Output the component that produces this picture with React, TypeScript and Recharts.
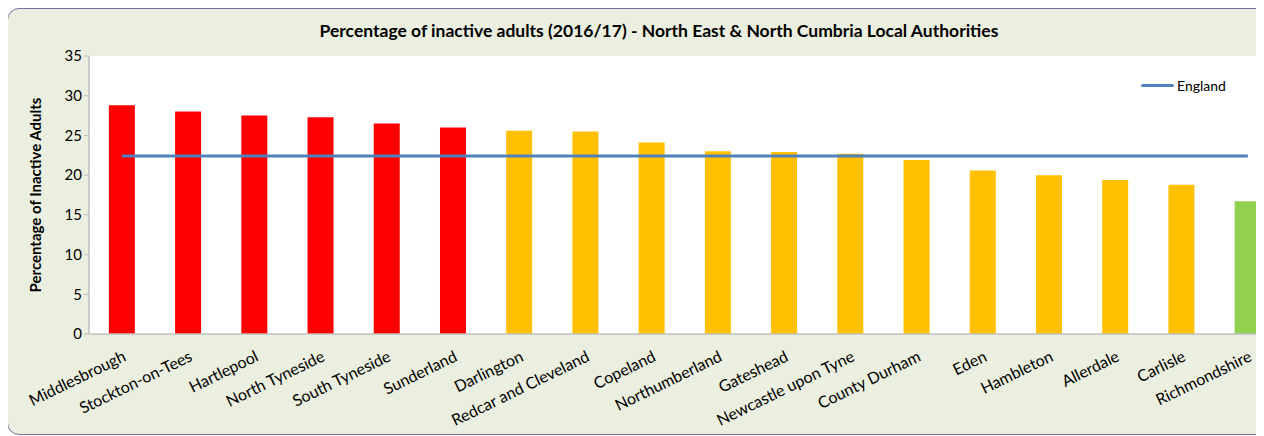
import React from "react";
import { ComposedChart, Bar, Line, Cell, XAxis, YAxis, CartesianGrid } from "recharts";

const authorities = [
    "Middlesbrough", "Stockton-on-Tees", "Hartlepool", "North Tyneside", "South Tyneside",
    "Sunderland", "Darlington", "Redcar and Cleveland", "Copeland", "Northumberland",
    "Gateshead", "Newcastle upon Tyne", "County Durham", "Eden", "Hambleton",
    "Allerdale", "Carlisle", "Richmondshire",
];
const inactivePct = [
    28.8, 28.0, 27.5, 27.3, 26.5, 26.0, 25.6, 25.5, 24.1, 23.0,
    22.9, 22.7, 21.9, 20.6, 20.0, 19.4, 18.8, 16.7,
];
const englandPct = [
    22.4, 22.4, 22.4, 22.4, 22.4, 22.4, 22.4, 22.4, 22.4, 22.4,
    22.4, 22.4, 22.4, 22.4, 22.4, 22.4, 22.4, 22.4,
];
const bandColours = [
    "#FF0000", "#FF0000", "#FF0000", "#FF0000", "#FF0000", "#FF0000",
    "#FFC000", "#FFC000", "#FFC000", "#FFC000", "#FFC000", "#FFC000",
    "#FFC000", "#FFC000", "#FFC000", "#FFC000", "#FFC000", "#92D050",
];
const yTicks = [0, 5, 10, 15, 20, 25, 30, 35];

const chartData = authorities.map((name, i) => ({
    name,
    value: inactivePct[i],
    england: englandPct[i],
}));

const font = "Lato, 'Open Sans', sans-serif";

const App: React.FC = () => {
    return (
        <div style={{ width: 1256, height: 428, overflow: "hidden", fontFamily: font }}>
            <div style={{
                position: "relative",
                width: 1290,
                height: 425,
                marginLeft: -1,
                background: "#EBEFDF",
                border: "1.5px solid #7F6A9E",
                borderRadius: 12,
            }}>
                <div style={{
                    position: "absolute", left: 0, width: 1302, top: 11,
                    textAlign: "center", fontWeight: "bold", fontSize: 17.5, color: "#000",
                }}>
                    Percentage of inactive adults (2016/17) - North East &amp; North Cumbria Local Authorities
                </div>
                <ComposedChart
                    width={1290}
                    height={425}
                    data={chartData}
                    margin={{ top: 47, right: 17, left: 0, bottom: 0 }}
                    barCategoryGap="30%"
                >
                    <CartesianGrid fill="#FFFFFF" horizontal={false} vertical={false} />
                    <XAxis
                        dataKey="name"
                        interval={0}
                        height={100}
                        angle={-26}
                        textAnchor="end"
                        tickLine={false}
                        tickMargin={10}
                        axisLine={{ stroke: "#BFBFBF", strokeWidth: 1.5 }}
                        tick={{ fontSize: 16, fill: "#000", fontFamily: font }}
                    />
                    <YAxis
                        width={81}
                        domain={[0, 35]}
                        ticks={yTicks}
                        interval={0}
                        tickSize={5}
                        axisLine={{ stroke: "#BFBFBF", strokeWidth: 1.5 }}
                        tickLine={{ stroke: "#BFBFBF" }}
                        tick={{ fontSize: 15, fill: "#000", fontFamily: font }}
                        label={{
                            value: "Percentage of Inactive Adults",
                            angle: -90,
                            position: "insideLeft",
                            offset: 28,
                            style: { textAnchor: "middle", fontWeight: "bold", fontSize: 15, fill: "#000", fontFamily: font },
                        }}
                    />
                    <Bar dataKey="value" isAnimationActive={false}>
                        {chartData.map((entry, index) => (
                            <Cell key={`cell-${index}`} fill={bandColours[index]} />
                        ))}
                    </Bar>
                    <Line
                        dataKey="england"
                        name="England"
                        stroke="#4F81BD"
                        strokeWidth={3}
                        dot={false}
                        activeDot={false}
                        isAnimationActive={false}
                    />
                </ComposedChart>
                {/* England legend, top right of the plot */}
                <div style={{
                    position: "absolute", left: 1133, top: 68, zIndex: 5, display: "flex", alignItems: "center",
                    fontSize: 14, color: "#000",
                }}>
                    <span style={{ display: "inline-block", width: 33, height: 3, background: "#4F81BD", borderRadius: 2, marginRight: 3 }} />
                    England
                </div>
            </div>
        </div>
    );
};

export default App;
